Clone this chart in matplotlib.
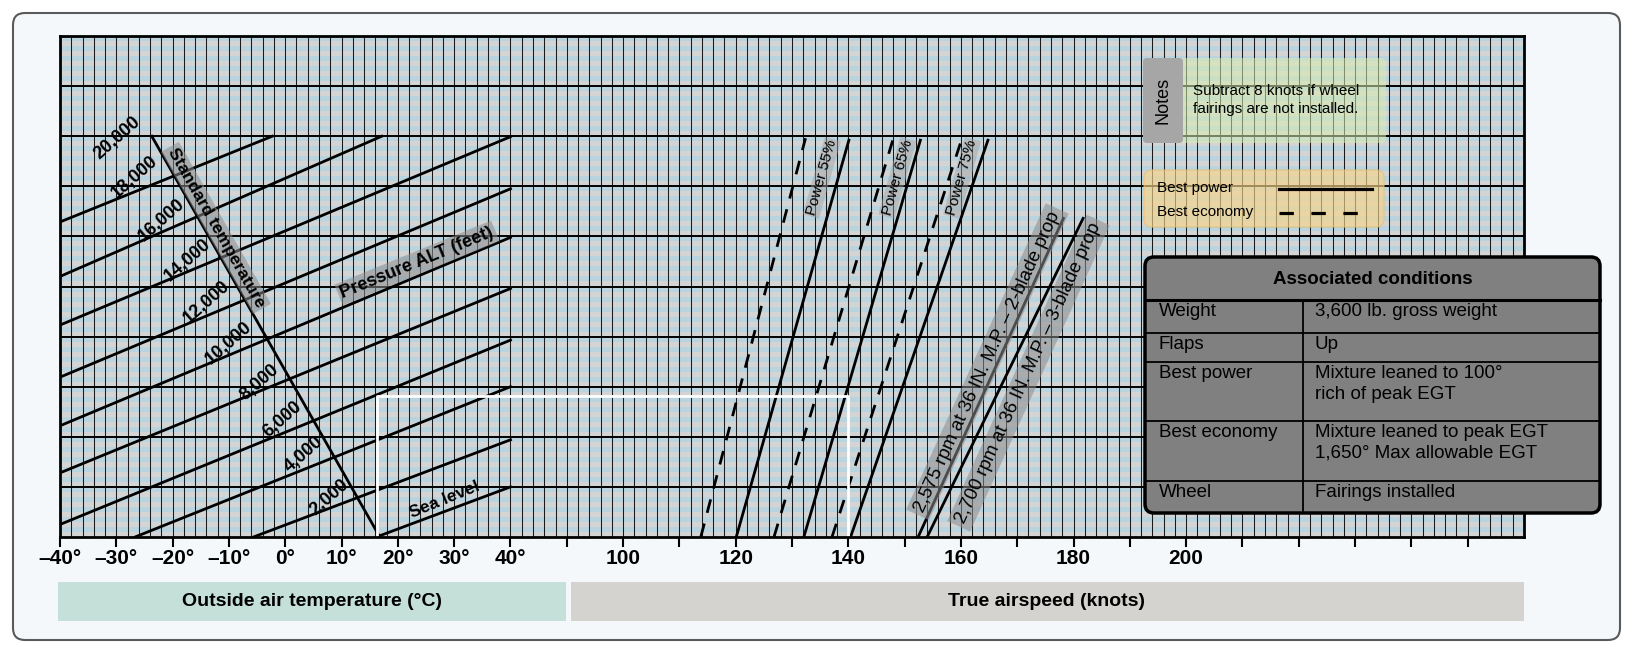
import numpy as np
import matplotlib
matplotlib.use("Agg")
import matplotlib.pyplot as plt
from matplotlib.patches import FancyBboxPatch, Rectangle

plt.rcParams['font.family'] = ['Liberation Sans', 'DejaVu Sans']

# %% data (temperature in degC, airspeed in knots, altitude axis in grid cells)
temp_ticks = [-40, -30, -20, -10, 0, 10, 20, 30, 40]
speed_ticks = list(range(90, 260, 10))
speed_labels = {100: '100', 120: '120', 140: '140', 160: '160', 180: '180', 200: '200'}

alt_names = ['Sea level', '2,000', '4,000', '6,000', '8,000', '10,000', '12,000',
             '14,000', '16,000', '18,000']
alt_c40 = [1.0, 1.94, 3.0, 3.93, 4.96, 5.98, 6.95, 7.99, 9.12, 9.92]   # cell at +40 degC
alt_slope = [0.042, 0.0425, 0.045, 0.046, 0.046, 0.047, 0.047, 0.047, 0.049, 0.0454]

std_temp = [(-23.7, 8.0), (16.8, 0.0)]

# power lines: airspeed at bottom, airspeed at top, cell at top
econ_bot = [113.8, 126.8, 137.1]
econ_top = [132.4, 148.0, 160.2]
econ_ctop = [7.96, 7.96, 7.96]
pwr_bot = [120.1, 132.1, 140.4]
pwr_top = [140.1, 152.8, 164.8]
pwr_ctop = [7.92, 7.92, 7.92]
pwr_names = ['Power 55%', 'Power 65%', 'Power 75%']
rpm_bot = [152.4, 154.0]
rpm_top = [178.2, 181.7]
rpm_ctop = [6.36, 6.36]
rpm_names = ['2,575 rpm at 36 IN. M.P. – 2-blade prop',
             '2,700 rpm at 36 IN. M.P. – 3-blade prop']

ex_temp, ex_speed, ex_cell = 16.3, 140, 2.82

cond_keys = ['Weight', 'Flaps', 'Best power', 'Best economy', 'Wheel']
cond_vals = ['3,600 lb. gross weight', 'Up', 'Mixture leaned to 100°\nrich of peak EGT',
             'Mixture leaned to peak EGT\n1,650° Max allowable EGT', 'Fairings installed']


def kt(v):
    # airspeed section shares the x axis, 90 knots sits 10 units right of +40 degC
    return np.asarray(v, dtype=float) - 40


# %% figure
W, H = 1634, 653
fig = plt.figure(figsize=(W / 100, H / 100), dpi=100)
fig.patch.set_facecolor('white')

bg = fig.add_axes([0, 0, 1, 1], zorder=0)
bg.set_xlim(0, W); bg.set_ylim(H, 0); bg.axis('off')
bg.add_patch(FancyBboxPatch((13, 13), 1607, 627, boxstyle='round,pad=0,rounding_size=12',
                            fc='#f4f8fb', ec='#5a5a5a', lw=1.5))
bg.add_patch(Rectangle((58, 582), 508, 39, fc='#c5e0d8', ec='none'))
bg.text(312, 601, 'Outside air temperature (°C)', ha='center', va='center',
        fontsize=14, fontweight='bold')
bg.add_patch(Rectangle((571, 582), 953, 39, fc='#d5d3cf', ec='none'))
bg.text(1047, 601, 'True airspeed (knots)', ha='center', va='center',
        fontsize=14, fontweight='bold')

ax = fig.add_axes([60 / W, (H - 537) / H, 1464 / W, 501 / H], zorder=1)
ax.set_xlim(-40, 220)
ax.set_ylim(0, 10)
ax.patch.set_alpha(0)

# striped background
for k in range(50):
    ax.axhspan(0.2 * k, 0.2 * k + 0.1, color='#d4d4d4', lw=0, zorder=0)
    ax.axhspan(0.2 * k + 0.1, 0.2 * k + 0.2, color='#b9d3df', lw=0, zorder=0)
for x in np.arange(-40, 221, 2):
    ax.axvline(x, color='#1a1a1a', lw=0.75, zorder=1)
for y in range(1, 10):
    ax.axhline(y, color='black', lw=1.4, zorder=1)

# pressure altitude lines
for name, c40, s in zip(alt_names, alt_c40, alt_slope):
    u0 = max(-40, 40 - c40 / s)
    u1 = min(40, 40 + (8 - c40) / s)
    uu = np.array([u0, u1])
    ax.plot(uu, c40 + s * (uu - 40), color='black', lw=2, zorder=3)

(su0, sc0), (su1, sc1) = std_temp
ax.plot([su0, su1], [sc0, sc1], color='black', lw=2, zorder=3)
std_ang = np.degrees(np.arctan2(sc1 - sc0, su1 - su0))
alt_ang = np.degrees(np.arctan2(alt_slope[4], 1))
ax.text(-12.3, 6.17, 'Standard temperature', rotation=std_ang, transform_rotates_text=True,
        rotation_mode='anchor', ha='center', va='center', fontsize=12.5, fontweight='bold', zorder=4,
        bbox=dict(fc='#8c8c8c', ec='none', alpha=0.55, pad=2))
ax.text(23.4, 5.47, 'Pressure ALT (feet)', rotation=alt_ang, transform_rotates_text=True,
        rotation_mode='anchor', ha='center', va='center', fontsize=13, fontweight='bold', zorder=4,
        bbox=dict(fc='#8c8c8c', ec='none', alpha=0.55, pad=2))
ax.text(28.4, 0.74, 'Sea level', rotation=alt_ang, transform_rotates_text=True,
        rotation_mode='anchor', ha='center', va='center', fontsize=12.5, fontweight='bold', zorder=4)

lab_u = [7.8, 3.3, -0.4, -4.5, -10.0, -13.9, -17.4, -21.9, -26.7, -29.9]
lab_c = [0.80, 1.64, 2.34, 3.09, 3.87, 4.69, 5.53, 6.33, 7.19, 7.96]
for name, u, c in zip(alt_names[1:] + ['20,000'], lab_u, lab_c):
    ax.text(u, c, name, rotation=alt_ang + 3, transform_rotates_text=True, rotation_mode='anchor',
            ha='center', va='center', fontsize=13, fontweight='bold', zorder=4)

# airspeed lines
for b, t, c in zip(econ_bot, econ_top, econ_ctop):
    ax.plot(kt([b, t]), [0, c], color='black', lw=2, ls=(0, (5, 4)), zorder=3)
for b, t, c, name in zip(pwr_bot, pwr_top, pwr_ctop, pwr_names):
    ax.plot(kt([b, t]), [0, c], color='black', lw=2, zorder=3)
for b, t, c, name in zip(rpm_bot, rpm_top, rpm_ctop, rpm_names):
    ax.plot(kt([b, t]), [0, c], color='black', lw=2, zorder=3)

pang = np.degrees(np.arctan2(pwr_ctop[0], pwr_top[0] - pwr_bot[0]))
for u, name in zip([95.3, 108.7, 120.2], pwr_names):
    ax.text(u, 7.17, name, rotation=pang, transform_rotates_text=True, rotation_mode='anchor',
            ha='center', va='center', fontsize=11, zorder=4,
            bbox=dict(fc='#a0a0a0', ec='none', alpha=0.45, pad=1))
rang = np.degrees(np.arctan2(rpm_ctop[0], rpm_top[0] - rpm_bot[0]))
for (u, c), name in zip([(124.7, 3.50), (132.0, 3.27)], rpm_names):
    ax.text(u, c, name, rotation=rang, transform_rotates_text=True, rotation_mode='anchor',
            ha='center', va='center', fontsize=13.5, zorder=4,
            bbox=dict(fc='#8c8c8c', ec='none', alpha=0.55, pad=3))

# example path
ax.plot([ex_temp, ex_temp, kt(ex_speed), kt(ex_speed)], [0, ex_cell, ex_cell, 0],
        color='white', lw=2, zorder=5)

# ticks
ticks = list(temp_ticks) + list(kt(speed_ticks))
labels = [f'{t}°'.replace('-', '–') for t in temp_ticks] + [speed_labels.get(s, '') for s in speed_ticks]
ax.set_xticks(ticks, labels)
ax.set_yticks([])
ax.tick_params(axis='x', direction='out', length=7.5, width=1.5, pad=1)
for lab in ax.get_xticklabels():
    lab.set_fontsize(15)
    lab.set_fontweight('bold')
for sp in ax.spines.values():
    sp.set_linewidth(2)
    sp.set_zorder(6)

# %% overlay: notes, legend, table
ov = fig.add_axes([0, 0, 1, 1], zorder=3)
ov.set_xlim(0, W); ov.set_ylim(H, 0); ov.axis('off')

ov.add_patch(FancyBboxPatch((1143, 58), 243, 85, boxstyle='round,pad=0,rounding_size=5',
                            fc='#d8ecb0', ec='none', alpha=0.55))
ov.add_patch(FancyBboxPatch((1143, 58), 40, 85, boxstyle='round,pad=0,rounding_size=4',
                            fc='#a6a6a6', ec='none'))
ov.text(1163, 100, 'Notes', rotation=90, ha='center', va='center', fontsize=13)
ov.text(1193, 100, 'Subtract 8 knots if wheel\nfairings are not installed.', ha='left', va='center',
        fontsize=11, linespacing=1.3)

ov.add_patch(FancyBboxPatch((1144, 170), 240, 57, boxstyle='round,pad=0,rounding_size=8',
                            fc='#f8d58a', ec='#e8c070', lw=1, alpha=0.65))
ov.text(1157, 188, 'Best power', ha='left', va='center', fontsize=11)
ov.text(1157, 212, 'Best economy', ha='left', va='center', fontsize=11)
ov.plot([1279, 1372], [189, 189], color='black', lw=2.3)
ov.plot([1279, 1372], [213, 213], color='black', lw=2.3, ls=(0, (4.5, 5.5)))

tx0, tx1, ty0, ty1 = 1145, 1600, 257, 513
ov.add_patch(FancyBboxPatch((tx0, ty0), tx1 - tx0, ty1 - ty0, boxstyle='round,pad=0,rounding_size=9',
                            fc='#808080', ec='black', lw=2.5))
ov.text((tx0 + tx1) / 2, 279, 'Associated conditions', ha='center', va='center',
        fontsize=13.5, fontweight='bold')
row_edges = [300, 333, 362, 421, 481, 513]
ov.plot([tx0, tx1], [300, 300], color='black', lw=2.2)
for y in row_edges[1:-1]:
    ov.plot([tx0, tx1], [y, y], color='black', lw=1.3)
ov.plot([1303, 1303], [300, ty1], color='black', lw=1.3)
for k, v, y in zip(cond_keys, cond_vals, row_edges[:-1]):
    ov.text(1159, y + 3, k, ha='left', va='top', fontsize=13.5, linespacing=1.3)
    ov.text(1315, y + 3, v, ha='left', va='top', fontsize=13.5, linespacing=1.3)

fig.savefig('out.png', dpi=100)
